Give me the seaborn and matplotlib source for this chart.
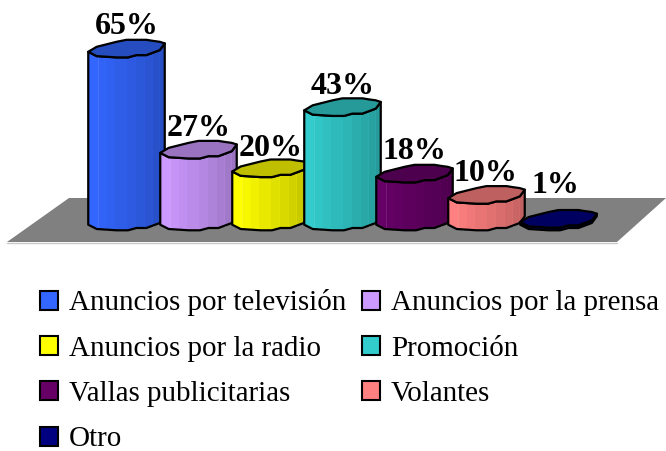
import numpy as np
import pandas as pd
import seaborn as sns
import matplotlib.pyplot as plt
from matplotlib.colors import to_rgb
from matplotlib.patches import Patch, Polygon

# data
medios = ["Anuncios por televisión", "Anuncios por la prensa", "Anuncios por la radio",
          "Promoción", "Vallas publicitarias", "Volantes", "Otro"]
porcentajes = [65, 27, 20, 43, 18, 10, 1]
colores = ["#3366FF", "#CC99FF", "#FFFF00", "#33CCCC", "#660066", "#FF8080", "#000080"]
etiquetas = ["65%", "27%", "20%", "43%", "18%", "10%", "1%"]

# pixel scale of the picture
W, H = 666, 451
PX_X = 72.0      # pixels per category
PX_Y = 2.66      # pixels per percent
X0, Y0 = 126.5, 220.5

# faceted cylinder profile (x as fraction of half width, y offset in px)
FRONT_X = [-1, -0.78, -0.26, 0.04, 0.26, 0.52, 0.87, 1]
FRONT_Y = [4.2, 8.5, 9.8, 9.8, 7.5, 7.5, 2.5, -4.2]
BACK_X = [1, 0.87, 0.68, 0.52, 0, -0.26, -0.78, -1]
BACK_Y = [-4.2, -5.8, -6.8, -7.8, -7.8, -5.8, -0.8, 4.2]
FACETS = [-1, -0.74, -0.52, -0.30, 0.0, 0.24, 0.48, 0.68, 0.87, 1]
LUCES = [True, True, False, False, True, True, True, True, False]
LABEL_PAD = [13.5, 12.5, 11.5, 12, 14, 13, 25]
LABEL_DX = [0, 0, 0, 0, 0, -1, -3]

sns.set_theme(style="white")
plt.rcParams["font.family"] = ["Liberation Serif", "DejaVu Serif"]

df = pd.DataFrame({"medio": medios, "porcentaje": porcentajes})

fig = plt.figure(figsize=(W / 100, H / 100), dpi=100)
ax = fig.add_axes([0, 0, 1, 1])
sns.barplot(data=df, x="medio", y="porcentaje", hue="medio", palette=colores,
            saturation=1, width=76.5 / PX_X, legend=False, ax=ax)
ax.set_xlim(-X0 / PX_X, (W - X0) / PX_X)
ax.set_ylim((Y0 - H) / PX_Y, Y0 / PX_Y)
ax.axis("off")


def dx(px):
    return (px - X0) / PX_X


def dy(px):
    return (Y0 - px) / PX_Y


# gray floor
suelo = [(69, 198), (666, 198), (617, 242), (7, 242)]
ax.add_patch(Polygon([(dx(a), dy(b)) for a, b in suelo], closed=True, fc="#808080", ec="none", zorder=1))
ax.plot([dx(7), dx(617)], [dy(242.5), dy(242.5)], color="#c8c8c8", lw=1, zorder=1)

for i, bar in enumerate(ax.patches[:len(medios)]):
    z = 3 + i
    c = np.array(to_rgb(colores[i]))
    v = bar.get_height()
    cx = bar.get_x() + bar.get_width() / 2
    half = bar.get_width() / 2

    front_x = cx + np.array(FRONT_X) * half
    front_off = np.array(FRONT_Y) / PX_Y
    back_x = cx + np.array(BACK_X) * half
    back_off = np.array(BACK_Y) / PX_Y

    # body outline, the bar itself gets clipped to it
    cuerpo = np.vstack([
        np.column_stack([front_x, 0 - front_off]),
        np.column_stack([front_x[::-1], v - front_off[::-1]]),
    ])
    body = Polygon(cuerpo, closed=True, fc=c, ec="none", zorder=z)
    ax.add_patch(body)
    bar.set_zorder(z)
    bar.set_clip_path(body)

    # vertical facets, light on the left, darker on the right
    for k in range(len(FACETS) - 1):
        a, b = FACETS[k], FACETS[k + 1]
        xs = np.array([a, b])
        off = np.interp(xs, FRONT_X, FRONT_Y) / PX_Y
        px = cx + xs * half
        shade = 1.0 - 0.24 * k / (len(FACETS) - 2)
        ax.fill([px[0], px[1], px[1], px[0]],
                [0 - off[0], 0 - off[1], v - off[1], v - off[0]],
                color=c * shade, lw=0, zorder=z)
        if LUCES[k] and v > 3:
            ax.plot([px[1], px[1]], [0 - off[1], v - off[1]], color="white",
                    lw=0.7, alpha=0.55, zorder=z)

    ax.add_patch(Polygon(cuerpo, closed=True, fc="none", ec="black", lw=1.6, joinstyle="round", zorder=z))

    # top of the cylinder
    tapa = np.vstack([
        np.column_stack([front_x, v - front_off]),
        np.column_stack([back_x, v - back_off]),
    ])
    ax.add_patch(Polygon(tapa, closed=True, fc=c * 0.75, ec="black", lw=1.6, joinstyle="round", zorder=z))

for i, txt in enumerate(etiquetas):
    ax.annotate(txt, (i, porcentajes[i]), xytext=(LABEL_DX[i] * 0.72, LABEL_PAD[i] * 0.72),
                textcoords="offset points", ha="center", va="baseline",
                fontsize=23, fontweight="bold", color="black", zorder=20)

# legend fills by column, the picture reads by row
orden = [0, 2, 4, 6, 1, 3, 5]
handles = [Patch(facecolor=colores[i], edgecolor="black", linewidth=1.5, label=medios[i]) for i in orden]
fig.legend(handles=handles, loc="upper left", bbox_to_anchor=(40 / W, 1 - 289.5 / H),
           ncols=2, frameon=False, fontsize=20.9, labelcolor="black", borderpad=0, borderaxespad=0,
           handlelength=0.62, handleheight=0.62, handletextpad=0.38,
           labelspacing=0.665, columnspacing=0.53)

fig.savefig("out.png", dpi=100)
